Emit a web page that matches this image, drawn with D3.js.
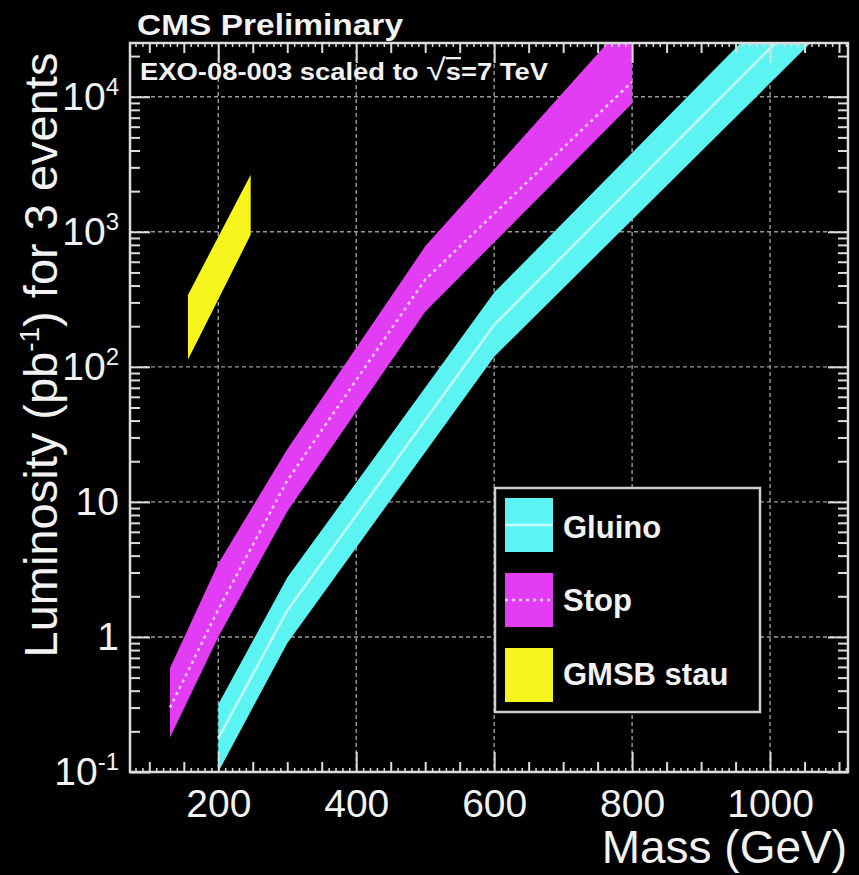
<!DOCTYPE html>
<html>
<head>
<meta charset="utf-8">
<script src="https://cdn.jsdelivr.net/npm/d3@7/dist/d3.min.js"></script>
<style>
  html, body { margin: 0; padding: 0; background: #000; }
  svg { display: block; }
  text { font-family: "Liberation Sans", Arial, Helvetica, sans-serif; fill: #f2f2f2; }
</style>
</head>
<body>
<svg id="chart" width="859" height="875"></svg>
<script>
// ---- Luminosity needed for 3 events, per signal model (pb^-1) ----
const gluinoMass    = [200, 300, 600, 900, 1200];
const gluinoLow     = [0.1, 0.9, 119, 3930, 130000];
const gluinoCentral = [0.178, 1.57, 205, 7050, 242000];
const gluinoHigh    = [0.317, 2.75, 355, 12640, 450000];

const stopMass    = [130, 200, 300, 500, 800];
const stopLow     = [0.18, 1.0, 8.5, 256, 8900];
const stopCentral = [0.3, 1.6, 14.4, 443, 12900];
const stopHigh    = [0.59, 3.5, 24.5, 780, 40000];

const stauMass = [156, 247];
const stauLow  = [113, 950];
const stauHigh = [341, 2643];

// ---- axis ticks ----
const xTickValues = [200, 400, 600, 800, 1000];
const yTickValues = [0.1, 1, 10, 100, 1000, 10000];
const yTickLabels = [["10", "-1"], ["1", ""], ["10", ""], ["10", "2"], ["10", "3"], ["10", "4"]];

const legendItems = [
  { name: "Gluino",    color: "#5cf3f3", line: "#c4ffff", dash: null },
  { name: "Stop",      color: "#e23cf4", line: "#ffd2ff", dash: "3,4" },
  { name: "GMSB stau", color: "#f7f51e", line: null,      dash: null }
];

// ---- layout ----
const frame = { left: 130, right: 848, top: 43, bottom: 772 };
const svg = d3.select("#chart");

svg.append("rect").attr("width", 859).attr("height", 875).attr("fill", "#000");

const x = d3.scaleLinear().domain([72, 1113]).range([frame.left, frame.right]);
const y = d3.scaleLog().domain([0.1, 25000]).range([frame.bottom, frame.top]);

svg.append("clipPath").attr("id", "plotClip")
  .append("rect")
  .attr("x", frame.left).attr("y", frame.top)
  .attr("width", frame.right - frame.left).attr("height", frame.bottom - frame.top);

// grid
const grid = svg.append("g").attr("stroke", "#9a9a9a").attr("stroke-width", 1.4)
  .attr("stroke-dasharray", "4,3");
grid.selectAll("line.gx").data(xTickValues).join("line")
  .attr("x1", d => x(d)).attr("x2", d => x(d))
  .attr("y1", frame.top).attr("y2", frame.bottom);
grid.selectAll("line.gy").data(yTickValues.filter(v => v > 0.1)).join("line")
  .attr("x1", frame.left).attr("x2", frame.right)
  .attr("y1", d => y(d)).attr("y2", d => y(d));

// bands
const zipBand = (m, lo, c, hi) => m.map((v, i) => ({ m: v, lo: lo[i], c: c ? c[i] : null, hi: hi[i] }));
const gluino = zipBand(gluinoMass, gluinoLow, gluinoCentral, gluinoHigh);
const stop   = zipBand(stopMass, stopLow, stopCentral, stopHigh);
const stau   = zipBand(stauMass, stauLow, null, stauHigh);

const area = d3.area().x(d => x(d.m)).y0(d => y(d.lo)).y1(d => y(d.hi));
const mid  = d3.line().x(d => x(d.m)).y(d => y(d.c));

const plot = svg.append("g").attr("clip-path", "url(#plotClip)");
plot.append("path").datum(gluino).attr("d", area).attr("fill", legendItems[0].color);
plot.append("path").datum(gluino).attr("d", mid).attr("fill", "none")
  .attr("stroke", legendItems[0].line).attr("stroke-width", 2.5);
plot.append("path").datum(stop).attr("d", area).attr("fill", legendItems[1].color);
plot.append("path").datum(stop).attr("d", mid).attr("fill", "none")
  .attr("stroke", legendItems[1].line).attr("stroke-width", 2.5)
  .attr("stroke-dasharray", legendItems[1].dash);
plot.append("path").datum(stau).attr("d", area).attr("fill", legendItems[2].color);

// ticks (inner, on all four sides)
const tickColor = "#dcdcdc";
const xMinor = d3.range(100, 1113, 50).filter(v => v % 200 !== 0);
const xFine = d3.range(80, 1113, 10).filter(v => v % 50 !== 0);
const yMinor = [];
[0.1, 1, 10, 100, 1000, 10000].forEach(dec => {
  for (let k = 2; k <= 9; k++) { const v = dec * k; if (v <= 25000) yMinor.push(v); }
});

function drawAxis(axisGen, transform) {
  const g = svg.append("g").attr("transform", transform).call(axisGen);
  g.select(".domain").remove();
  g.selectAll("line").attr("stroke", tickColor).attr("stroke-width", 2);
  return g;
}
const noLabel = () => "";
[[d3.axisBottom, `translate(0,${frame.bottom})`], [d3.axisTop, `translate(0,${frame.top})`]].forEach(([ax, tr]) => {
  drawAxis(ax(x).tickValues(xTickValues).tickSize(-20).tickFormat(noLabel), tr);
  drawAxis(ax(x).tickValues(xMinor).tickSize(-10).tickFormat(noLabel), tr);
  drawAxis(ax(x).tickValues(xFine).tickSize(-4).tickFormat(noLabel), tr).selectAll("line").attr("stroke-width", 1.5);
});
[[d3.axisLeft, `translate(${frame.left},0)`], [d3.axisRight, `translate(${frame.right},0)`]].forEach(([ax, tr]) => {
  drawAxis(ax(y).tickValues(yTickValues).tickSize(-20).tickFormat(noLabel), tr);
  drawAxis(ax(y).tickValues(yMinor).tickSize(-10).tickFormat(noLabel), tr);
});

// tick labels
const xLab = svg.append("g").attr("transform", `translate(0,${frame.bottom})`)
  .call(d3.axisBottom(x).tickValues(xTickValues).tickSize(0).tickPadding(17).tickFormat(d3.format("d")));
xLab.select(".domain").remove();
xLab.selectAll("text").attr("font-size", 39).attr("fill", "#f2f2f2")
  .style("font-family", "'Liberation Sans', Arial, sans-serif");

const yLab = svg.append("g").attr("transform", `translate(${frame.left},0)`)
  .call(d3.axisLeft(y).tickValues(yTickValues).tickSize(0).tickPadding(11).tickFormat(noLabel));
yLab.select(".domain").remove();
yLab.selectAll("text").each(function (d) {
  const lab = yTickLabels[yTickValues.indexOf(d)];
  const t = d3.select(this).attr("font-size", 39).attr("fill", "#f2f2f2")
    .style("font-family", "'Liberation Sans', Arial, sans-serif").text(null);
  t.append("tspan").text(lab[0]);
  if (lab[1]) t.append("tspan").attr("font-size", 24).attr("dy", -15).text(lab[1]);
});

// frame
svg.append("rect")
  .attr("x", frame.left).attr("y", frame.top)
  .attr("width", frame.right - frame.left).attr("height", frame.bottom - frame.top)
  .attr("fill", "none").attr("stroke", "#dcdcdc").attr("stroke-width", 2.5);

// axis titles
svg.append("text").attr("x", 847).attr("y", 863).attr("text-anchor", "end")
  .attr("font-size", 46).text("Mass (GeV)");
const yt = svg.append("text").attr("transform", "translate(57,355) rotate(-90)")
  .attr("text-anchor", "middle").attr("font-size", 47);
yt.append("tspan").text("Luminosity (pb");
yt.append("tspan").attr("font-size", 28).attr("dy", -18).text("-1");
yt.append("tspan").attr("dy", 18).text(") for 3 events");

// headers
svg.append("text").attr("x", 137).attr("y", 35).attr("font-size", 30).attr("font-weight", "bold")
  .attr("textLength", 266).attr("lengthAdjust", "spacingAndGlyphs").text("CMS Preliminary");
const sub = svg.append("text").attr("x", 140).attr("y", 80).attr("font-size", 23).attr("font-weight", "bold")
  .attr("textLength", 408).attr("lengthAdjust", "spacingAndGlyphs");
sub.append("tspan").text("EXO-08-003 scaled to ");
sub.append("tspan").attr("font-size", 30).attr("font-weight", "normal").text("√");
sub.append("tspan").style("text-decoration", "overline").text("s");
sub.append("tspan").text("=7 TeV");

// legend
const leg = svg.append("g");
leg.append("rect").attr("x", 495).attr("y", 488).attr("width", 265).attr("height", 224)
  .attr("fill", "#000").attr("stroke", "#cfcfcf").attr("stroke-width", 2.5);
const entries = leg.selectAll("g.entry").data(legendItems).join("g")
  .attr("transform", (d, i) => `translate(505,${498 + i * 75})`);
entries.append("rect").attr("width", 48).attr("height", 54).attr("fill", d => d.color);
entries.filter(d => d.line).append("line")
  .attr("x1", 0).attr("x2", 48).attr("y1", 27).attr("y2", 27)
  .attr("stroke", d => d.line).attr("stroke-width", 2.5)
  .attr("stroke-dasharray", d => d.dash);
entries.append("text").attr("x", 58).attr("y", (d, i) => [40, 38, 37][i])
  .attr("font-size", 31).attr("font-weight", "bold").text(d => d.name);
</script>
</body>
</html>
